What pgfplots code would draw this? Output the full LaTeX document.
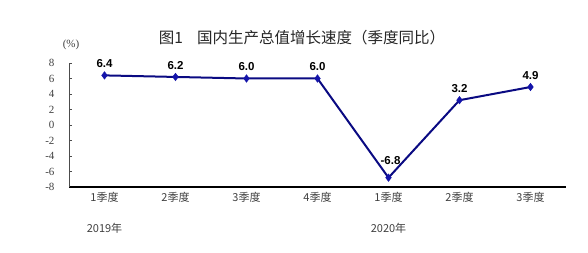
\documentclass[border=0pt]{standalone}
\usepackage{pgfplots}
\pgfplotsset{compat=1.18}
\usepackage{fontspec}
\setmainfont{Liberation Serif}
\newfontfamily\cjk{Noto Sans CJK SC}
\newfontfamily\lab{Liberation Sans}
\definecolor{gdpline}{RGB}{10,10,130}
\definecolor{gdpmark}{RGB}{20,20,170}

\pgfplotstableread{
idx value
0 6.4
1 6.2
2 6.0
3 6.0
4 -6.8
5 3.2
6 4.9
}\gdp

\begin{document}
\begin{tikzpicture}[x=1pt,y=1pt]
\useasboundingbox (0,0) rectangle (588,253);
\node[font=\cjk\fontsize{15.5}{18}\selectfont, color=black!85] at (302,215) {图1\hspace{0.9em}国内生产总值增长速度（季度同比）};
\node[font=\fontsize{11}{13}\selectfont, color=black!75] at (71,208) {(\%)};
\begin{axis}[
  at={(69pt,66pt)}, anchor=south west,
  scale only axis, width=497pt, height=124pt,
  xmin=-0.5, xmax=6.5, ymin=-8, ymax=8,
  axis x line*=bottom, axis y line*=left,
  x axis line style={black, line width=1.3pt, -},
  y axis line style={black!70, line width=0.6pt, -},
  xtick=data,
  xticklabels={1季度,2季度,3季度,4季度,1季度,2季度,3季度},
  x tick style={draw=none},
  x tick label style={font=\fontsize{11}{13}\selectfont\cjk, color=black!75, yshift=-2pt},
  ytick={-8,-6,...,8},
  y tick style={black!70, line width=0.6pt},
  tick align=inside, major tick length=3pt,
  y tick label style={font=\rmfamily\fontsize{11}{13}\selectfont, color=black!75, xshift=-11pt},
  /pgf/number format/assume math mode=true,
  clip=false,
  nodes near coords,
  nodes near coords style={font=\lab\bfseries\fontsize{11.5}{13}\selectfont, black, yshift=4pt,
    /pgf/number format/.cd, fixed, fixed zerofill, precision=1},
  coordinate style/.condition={y<0}{yshift=21pt, xshift=2pt},
]
\addplot[color=gdpline, line width=2pt, mark=diamond*, mark size=3.8pt,
  mark options={fill=gdpmark, draw=gdpmark, line width=0.4pt}] table[x=idx, y=value] {\gdp};
\node[font=\cjk\fontsize{11}{13}\selectfont, color=black!75] at (axis cs:0,-8) [yshift=-41pt] {2019年};
\node[font=\cjk\fontsize{11}{13}\selectfont, color=black!75] at (axis cs:4,-8) [yshift=-41pt] {2020年};
\end{axis}
\end{tikzpicture}
\end{document}
